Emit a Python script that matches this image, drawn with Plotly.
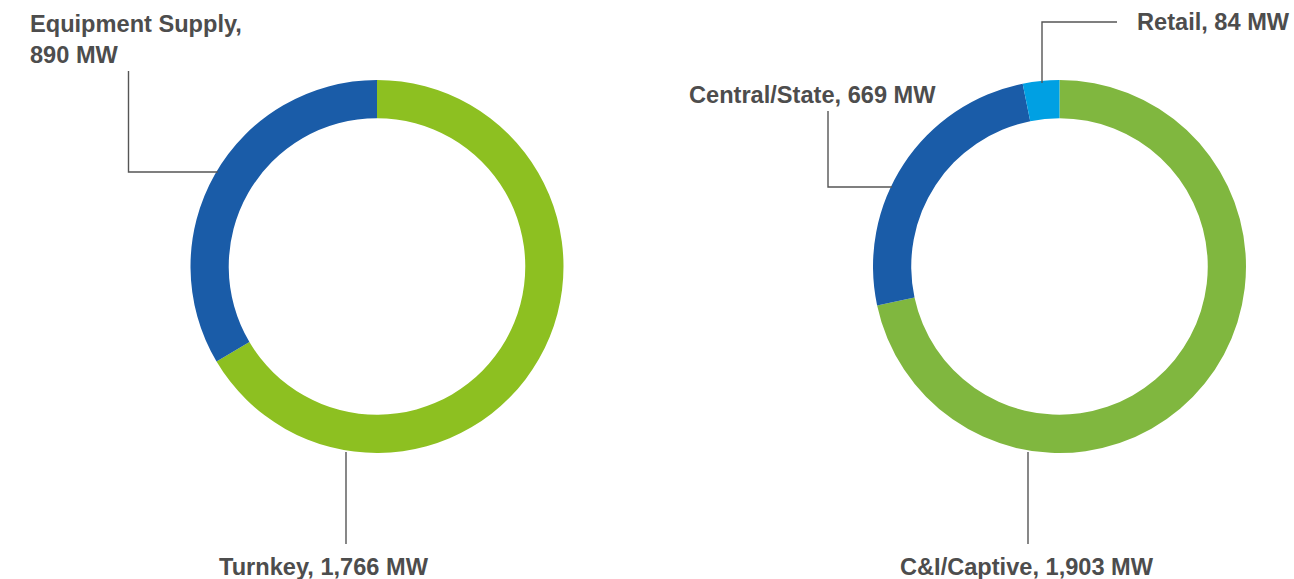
import plotly.graph_objects as go

W, H = 1294, 579

# Data
left_labels = ["Turnkey", "Equipment Supply"]
left_values = [1766, 890]
left_colors = ["#8DC021", "#1A5CA8"]

right_labels = ["C&I/Captive", "Central/State", "Retail"]
right_values = [1903, 669, 84]
right_colors = ["#80B73F", "#1A5CA8", "#00A0E3"]

def px(x):
    return x / W

def py(y):
    return 1 - y / H

fig = go.Figure()

fig.add_trace(go.Pie(
    labels=left_labels, values=left_values, hole=0.795, sort=False,
    direction="clockwise", rotation=0, textinfo="none", hoverinfo="label+value",
    marker=dict(colors=left_colors, line=dict(width=0)),
    domain=dict(x=[px(190), px(564)], y=[py(453), py(80)]),
    showlegend=False,
))
fig.add_trace(go.Pie(
    labels=right_labels, values=right_values, hole=0.795, sort=False,
    direction="clockwise", rotation=0, textinfo="none", hoverinfo="label+value",
    marker=dict(colors=right_colors, line=dict(width=0)),
    domain=dict(x=[px(873), px(1246)], y=[py(453), py(80)]),
    showlegend=False,
))

line_style = dict(color="#555555", width=1.4)
leaders = [
    [(128.5, 71), (128.5, 172), (218, 172)],
    [(346, 452), (346, 544)],
    [(1117, 22), (1042, 22), (1042, 83)],
    [(828, 111), (828, 187), (892, 187)],
    [(1028, 452), (1028, 544)],
]
for pts in leaders:
    path = "M " + " L ".join(f"{px(x)} {py(y)}" for x, y in pts)
    fig.add_shape(type="path", path=path, xref="paper", yref="paper", line=line_style)

font = dict(family="Liberation Sans, Arial, sans-serif", size=23.6, color="#4D4D4D")
texts = [
    ("<b>Equipment Supply,<br>890 MW</b>", 28, 40, "left"),
    ("<b>Turnkey, 1,766 MW</b>", 217, 567, "left"),
    ("<b>Retail, 84 MW</b>", 1135, 22, "left"),
    ("<b>Central/State, 669 MW</b>", 687, 95, "left"),
    ("<b>C&I/Captive, 1,903 MW</b>", 898, 567, "left"),
]
for t, x, y, xa in texts:
    fig.add_annotation(text=t, x=px(x), y=py(y), xref="paper", yref="paper",
                       xanchor=xa, yanchor="middle", showarrow=False, align="left",
                       font=font)

fig.update_layout(width=W, height=H, margin=dict(l=0, r=0, t=0, b=0),
                  paper_bgcolor="white", plot_bgcolor="white")

fig.write_html("out.html", config={"displayModeBar": False},
               post_script="document.body.style.margin='0';document.body.style.overflow='hidden';")
